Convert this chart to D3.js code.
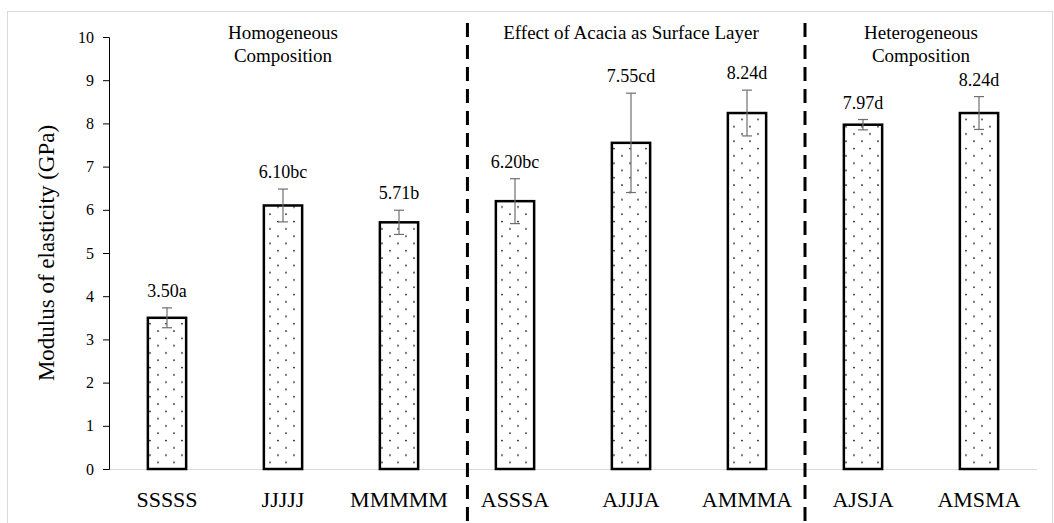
<!DOCTYPE html>
<html>
<head>
<meta charset="utf-8">
<script src="https://cdn.jsdelivr.net/npm/d3@7"></script>
<style>
  body { margin: 0; background: #fff; }
  svg text { font-family: "Liberation Serif", "DejaVu Serif", serif; fill: #000; }
</style>
</head>
<body>
<svg id="chart"></svg>
<script>
// chart values
const categories = ["SSSSS", "JJJJJ", "MMMMM", "ASSSA", "AJJJA", "AMMMA", "AJSJA", "AMSMA"];
const values = [3.50, 6.10, 5.71, 6.20, 7.55, 8.24, 7.97, 8.24];
const errors = [0.23, 0.38, 0.28, 0.52, 1.15, 0.53, 0.12, 0.38];
const valueLabels = ["3.50a", "6.10bc", "5.71b", "6.20bc", "7.55cd", "8.24d", "7.97d", "8.24d"];
const yTicks = [0, 1, 2, 3, 4, 5, 6, 7, 8, 9, 10];
const groupTitles = [["Homogeneous", "Composition"], ["Effect of Acacia as Surface Layer"], ["Heterogeneous", "Composition"]];
const groupMembers = [["SSSSS", "JJJJJ", "MMMMM"], ["ASSSA", "AJJJA", "AMMMA"], ["AJSJA", "AMSMA"]];

const W = 1054, H = 523;
const margin = { top: 37, right: 17, bottom: 54, left: 109 };
const width = W - margin.left - margin.right,
  height = H - margin.top - margin.bottom;

const svg = d3.select("#chart").attr("width", W).attr("height", H);

// dotted fill like the excel 5% pattern
const defs = svg.append("defs");
const pat = defs.append("pattern")
  .attr("id", "dots")
  .attr("patternUnits", "userSpaceOnUse")
  .attr("width", 16)
  .attr("height", 14.6)
  .attr("x", 0)
  .attr("y", 0);
pat.append("rect").attr("width", 16).attr("height", 14.6).attr("fill", "#fff");
pat.append("circle").attr("cx", 1).attr("cy", 2).attr("r", 0.9).attr("fill", "#111");
pat.append("circle").attr("cx", 9).attr("cy", 9.3).attr("r", 0.9).attr("fill", "#111");

// outer frame
svg.append("rect")
  .attr("x", 7.5).attr("y", 11.5)
  .attr("width", 1045).attr("height", 530)
  .attr("fill", "none")
  .attr("stroke", "#d9d9d9")
  .attr("stroke-width", 1);

const g = svg.append("g").attr("transform", `translate(${margin.left},${margin.top})`);

const x = d3.scaleBand()
  .domain(categories)
  .range([0, width])
  .paddingInner(0.67)
  .paddingOuter(0.335);

const y = d3.scaleLinear().domain([0, 10]).range([height, 0]);

// baseline
g.append("line")
  .attr("x1", 0).attr("x2", width)
  .attr("y1", y(0) + 0.5).attr("y2", y(0) + 0.5)
  .attr("stroke", "#d9d9d9");

// y axis
const yAxis = g.append("g")
  .call(d3.axisLeft(y).tickValues(yTicks).tickSize(6).tickPadding(9).tickFormat(d3.format("d")));
yAxis.select(".domain").attr("stroke", "#000");
yAxis.selectAll(".tick line").attr("stroke", "#000");
yAxis.selectAll(".tick text")
  .style("font-family", "Liberation Serif, serif")
  .style("font-size", "16px")
  .attr("fill", "#000");

// y title
g.append("text")
  .attr("transform", "rotate(-90)")
  .attr("x", -height / 2)
  .attr("y", -55)
  .attr("text-anchor", "middle")
  .style("font-size", "23px")
  .text("Modulus of elasticity (GPa)");

// bars
g.append("g")
  .selectAll("rect")
  .data(categories)
  .join("rect")
  .attr("x", (d) => x(d))
  .attr("y", (d, i) => y(values[i]))
  .attr("width", x.bandwidth())
  .attr("height", (d, i) => y(0) - y(values[i]))
  .attr("fill", "url(#dots)")
  .attr("stroke", "#000")
  .attr("stroke-width", 2.5);

// error bars
const eb = g.append("g").attr("stroke", "#6f6f6f").attr("stroke-width", 1.2);
categories.forEach((c, i) => {
  const cx = x(c) + x.bandwidth() / 2;
  const top = y(values[i] + errors[i]), bot = y(values[i] - errors[i]);
  eb.append("line").attr("x1", cx).attr("x2", cx).attr("y1", top).attr("y2", bot);
  eb.append("line").attr("x1", cx - 5).attr("x2", cx + 5).attr("y1", top).attr("y2", top);
  eb.append("line").attr("x1", cx - 5).attr("x2", cx + 5).attr("y1", bot).attr("y2", bot);
});

// value labels
g.append("g")
  .selectAll("text")
  .data(categories)
  .join("text")
  .attr("x", (d) => x(d) + x.bandwidth() / 2)
  .attr("y", (d, i) => y(values[i] + errors[i]) - 11)
  .attr("text-anchor", "middle")
  .style("font-size", "18px")
  .text((d, i) => valueLabels[i]);

// category labels
g.append("g")
  .selectAll("text")
  .data(categories)
  .join("text")
  .attr("x", (d) => x(d) + x.bandwidth() / 2)
  .attr("y", height + 38)
  .attr("text-anchor", "middle")
  .style("font-size", "22px")
  .text((d) => d);

// dashed group dividers
const dividerX = [
  x("MMMMM") + x.bandwidth() / 2 + x.step() * 0.59,
  x("AMMMA") + x.bandwidth() / 2 + x.step() * 0.5
];
dividerX.forEach((dx) => {
  g.append("line")
    .attr("x1", dx).attr("x2", dx)
    .attr("y1", -14).attr("y2", H - margin.top)
    .attr("stroke", "#000")
    .attr("stroke-width", 3)
    .attr("stroke-dasharray", "14,8");
});

// group titles
groupTitles.forEach((lines, k) => {
  const mem = groupMembers[k];
  const cx = (x(mem[0]) + x(mem[mem.length - 1]) + x.bandwidth()) / 2;
  const t = g.append("text")
    .attr("text-anchor", "middle")
    .attr("y", 2)
    .style("font-size", "19px");
  lines.forEach((ln, j) => {
    t.append("tspan").attr("x", cx).attr("dy", j === 0 ? 0 : 23).text(ln);
  });
});
</script>
</body>
</html>
